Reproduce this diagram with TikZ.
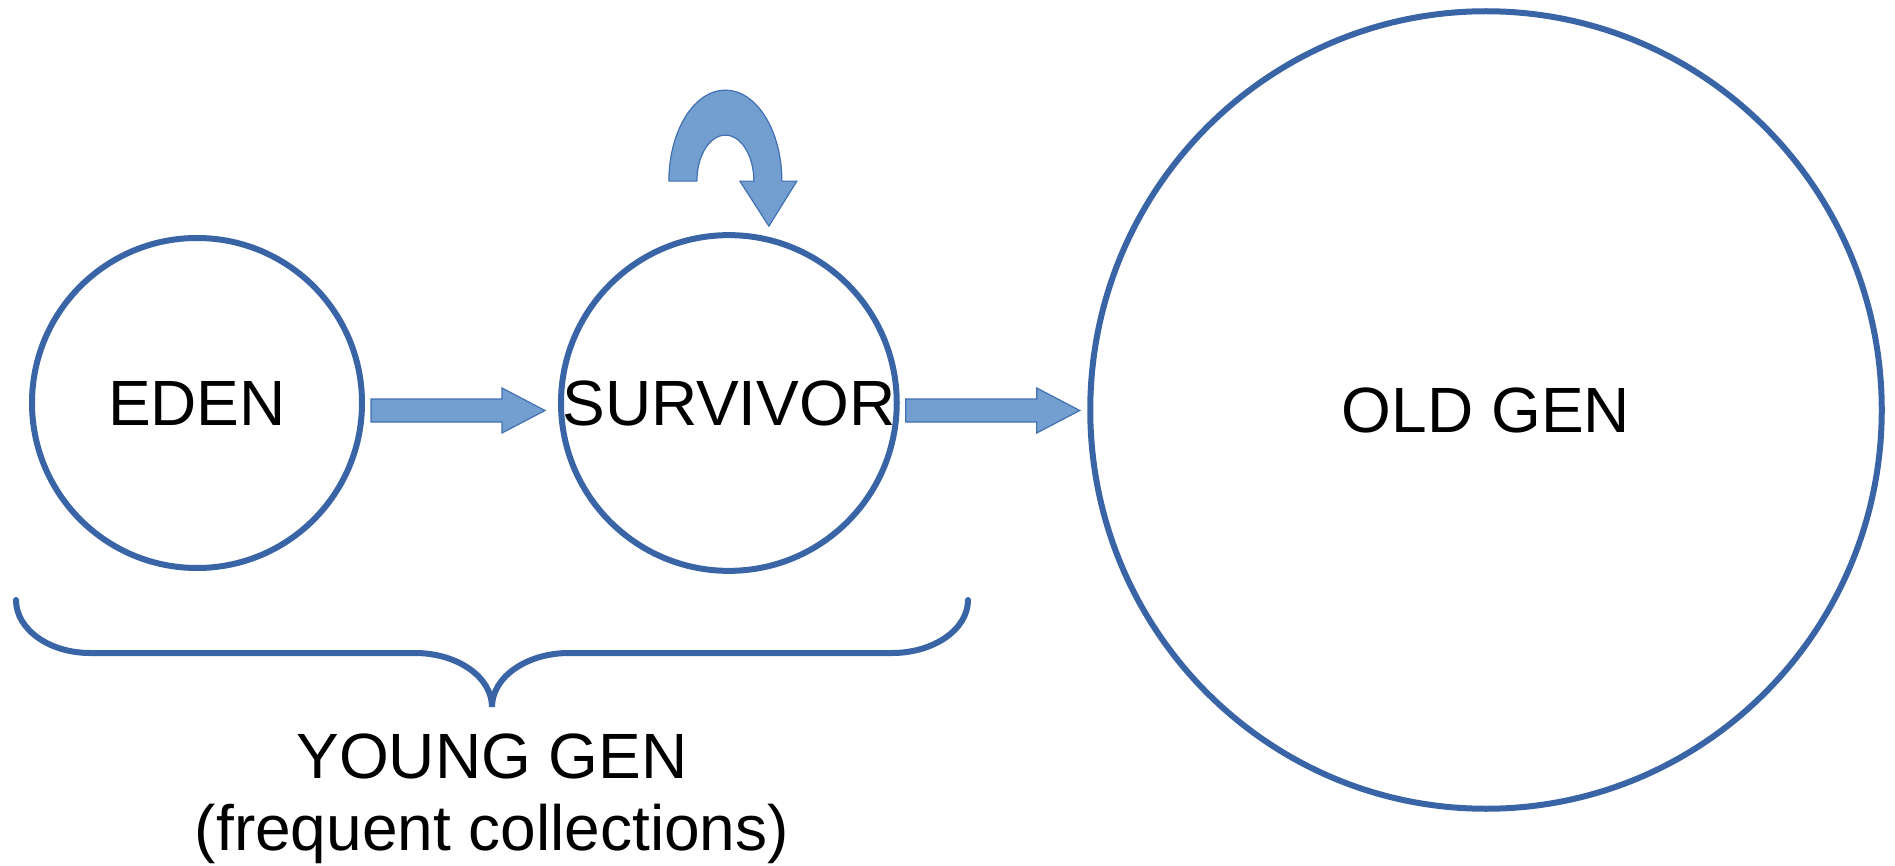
\documentclass[tikz,border=0pt]{standalone}
\usepackage{fontspec}
\setmainfont{Liberation Sans}
\usetikzlibrary{positioning,shapes.geometric}
\definecolor{genblue}{RGB}{57,101,166}
\definecolor{arrowfill}{RGB}{114,159,207}
\definecolor{arrowline}{RGB}{66,112,178}
\tikzset{
  gen/.style={draw=genblue,line width=3pt,outer sep=0pt,inner sep=0pt,font=\fontsize{32}{36}\selectfont},
  blockarrow/.style={fill=arrowfill,draw=arrowline,line width=0.6pt,line join=miter},
  braceline/.style={draw=genblue,line width=3pt,line cap=round}
}
\begin{document}
\begin{tikzpicture}[x=0.5pt,y=-0.5pt]
    \useasboundingbox (0,0) rectangle (1895,866);
    % generations
    \node[gen,circle,minimum size=165pt] (eden) at (197,403) {EDEN};
    \node[gen,circle,minimum size=165pt,right=99.5pt of eden] (survivor) {SURVIVOR};
    \node[gen,ellipse,minimum width=395.75pt,minimum height=398.75pt] (oldgen) at (1486,410) {OLD GEN};
    % promotion arrows
    \draw[blockarrow] ([xshift=4.5pt,yshift=-3.75pt]eden.east) ++(0,5.75pt) -- ++(65.5pt,0) -- ++(0,5.5pt) -- ++(21.5pt,-11.25pt) -- ++(-21.5pt,-11.25pt) -- ++(0,5.5pt) -- ++(-65.5pt,0) -- cycle;
    \draw[blockarrow] ([xshift=4.5pt,yshift=-3.75pt]survivor.east) ++(0,5.75pt) -- ++(65.5pt,0) -- ++(0,5.5pt) -- ++(21.5pt,-11.25pt) -- ++(-21.5pt,-11.25pt) -- ++(0,5.5pt) -- ++(-65.5pt,0) -- cycle;
    % survivor to survivor
    \coordinate (loop) at ([xshift=-1.75pt,yshift=27pt]survivor.north);
    \draw[blockarrow] ([xshift=-28.25pt]loop) arc[start angle=180,end angle=0,x radius=28.25pt,y radius=45.5pt] -- ++(7.5pt,0) -- ++(-14pt,-22.5pt) -- ++(-14.5pt,22.5pt) -- ++(7pt,0) arc[start angle=0,end angle=180,x radius=14.25pt,y radius=23pt] -- cycle;
    % young gen brace
    \coordinate (bracetip) at (492,707);
    \draw[braceline] (16,600) arc[start angle=180,end angle=270,x radius=37pt,y radius=26.5pt] -- (415,653) arc[start angle=90,end angle=0,x radius=38.5pt,y radius=27pt] arc[start angle=180,end angle=90,x radius=38.5pt,y radius=27pt] -- (892,653) arc[start angle=270,end angle=360,x radius=38pt,y radius=26.5pt];
    \node[align=center,inner sep=0pt,font=\fontsize{32}{36}\selectfont,below=13.2pt of bracetip] (young) {YOUNG GEN\\(frequent collections)};
\end{tikzpicture}
\end{document}
